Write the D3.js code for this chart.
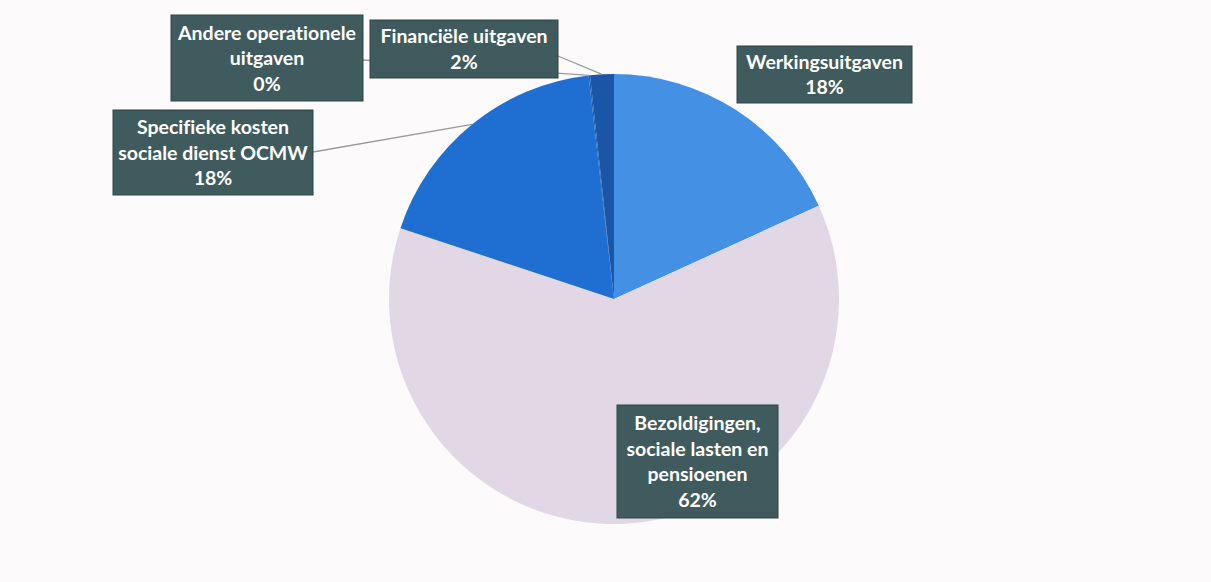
<!DOCTYPE html>
<html><head><meta charset="utf-8">
<script src="https://cdn.jsdelivr.net/npm/d3@7"></script>
<style>
html,body{margin:0;padding:0;background:#fcfafb;}
svg{display:block;}
text{font-variant-ligatures:none;font-feature-settings:"liga" 0;}
</style></head>
<body>
<svg id="chart" width="1211" height="582"></svg>
<script>
// ---- data ----
const categories = ["Werkingsuitgaven", "Bezoldigingen, sociale lasten en pensioenen", "Specifieke kosten sociale dienst OCMW", "Andere operationele uitgaven", "Financiële uitgaven"];
const values = [18.2, 61.9, 18.1, 0.1, 1.7];
const percentLabels = ["18%", "62%", "18%", "0%", "2%"];
const labelLines = [
  ["Werkingsuitgaven"],
  ["Bezoldigingen,", "sociale lasten en", "pensioenen"],
  ["Specifieke kosten", "sociale dienst OCMW"],
  ["Andere operationele", "uitgaven"],
  ["Financiële uitgaven"]
];
const colors = ["#4390e4", "#e2d8e5", "#1f6ed2", "#1a5bb5", "#1a55a6"];

// ---- layout ----
const cx = 614, cy = 299, R = 225;
const boxes = [ // x, y, w, h, leader
  {x: 737, y: 46, w: 175, h: 57, leader: false},
  {x: 617, y: 405, w: 161, h: 113, leader: false},
  {x: 113, y: 110, w: 200, h: 85, leader: true, ax: 313, ay: 152},
  {x: 171, y: 15, w: 192, h: 86, leader: true, ax: 363, ay: 60},
  {x: 370, y: 20, w: 188, h: 58, leader: true, ax: 558, ay: 56}
];
const lineH = 25.5;

const svg = d3.select("#chart");
const g = svg.append("g").attr("transform", `translate(${cx},${cy})`);
const pie = d3.pie().sort(null).value(d => d)(values);
const arc = d3.arc().innerRadius(0).outerRadius(R);

g.selectAll("path.slice").data(pie).join("path")
  .attr("class", "slice")
  .attr("d", arc)
  .attr("fill", (d, i) => colors[i]);

// leader lines (drawn before boxes so boxes cover them)
const leaders = svg.append("g");
pie.forEach((d, i) => {
  const b = boxes[i];
  if (!b.leader) return;
  const a = (d.startAngle + d.endAngle) / 2;
  const ex = cx + Math.sin(a) * R, ey = cy - Math.cos(a) * R;
  leaders.append("line")
    .attr("x1", b.ax).attr("y1", b.ay).attr("x2", ex).attr("y2", ey)
    .attr("stroke", "#969c9e").attr("stroke-width", 1.3);
});

const lab = svg.append("g");
categories.forEach((c, i) => {
  const b = boxes[i];
  const gg = lab.append("g");
  gg.append("rect").attr("x", b.x).attr("y", b.y).attr("width", b.w).attr("height", b.h)
    .attr("fill", "#3f5b5e").attr("stroke", "#2e4446").attr("stroke-width", 1);
  const lines = labelLines[i].concat([percentLabels[i]]);
  const total = lines.length * lineH;
  const top = b.y + (b.h - total) / 2;
  lines.forEach((t, k) => {
    gg.append("text")
      .attr("x", b.x + b.w / 2)
      .attr("y", top + lineH * k + lineH / 2)
      .attr("dy", "0.36em")
      .attr("text-anchor", "middle")
      .attr("fill", "#ffffff")
      .attr("font-family", "Lato, 'Open Sans', sans-serif")
      .attr("font-weight", "bold")
      .attr("font-size", 19.5)
      .text(t);
  });
});
</script>
</body></html>
